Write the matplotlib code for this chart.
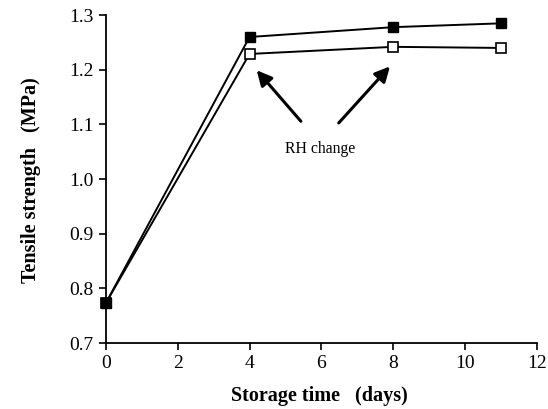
import matplotlib
matplotlib.use('Agg')
import matplotlib.pyplot as plt

# data
days = [0, 4, 8, 11]
filled = [0.773, 1.260, 1.278, 1.285]
open_sq = [0.773, 1.229, 1.242, 1.240]

plt.rcParams['font.family'] = ['Liberation Serif', 'DejaVu Serif']

fig = plt.figure(figsize=(5.48, 4.09), dpi=100)
ax = fig.add_axes([0.193, 0.161, 0.787, 0.802])

ax.plot(days, open_sq, color='black', lw=1.4, marker='s', ms=7.5,
        mfc='white', mec='black', mew=1.2, zorder=3, clip_on=False)
ax.plot(days, filled, color='black', lw=1.4, marker='s', ms=7.5,
        mfc='black', mec='black', zorder=4, clip_on=False)

ax.set_xlim(0, 12)
ax.set_ylim(0.7, 1.3)
ax.set_xticks(range(0, 13, 2))
ax.set_yticks([0.7, 0.8, 0.9, 1.0, 1.1, 1.2, 1.3])
ax.set_yticklabels(['0.7', '0.8', '0.9', '1.0', '1.1', '1.2', '1.3'])

for s in ['top', 'right']:
    ax.spines[s].set_visible(False)
ax.spines['left'].set_linewidth(1.3)
ax.spines['bottom'].set_linewidth(1.3)
ax.tick_params(direction='out', length=5, width=1.2, labelsize=14)

ax.set_xlabel('Storage time   (days)', fontsize=14.5, fontweight='bold')
ax.set_ylabel('Tensile strength   (MPa)', fontsize=14.5, fontweight='bold')
ax.xaxis.set_label_coords(0.495, -0.130)
ax.yaxis.set_label_coords(-0.151, 0.497)

# annotation with two arrows
ax.text(5.96, 1.055, 'RH change', ha='center', va='center', fontsize=11.3)
arrow = dict(arrowstyle='-|>,head_length=0.9,head_width=0.45', color='black', lw=2.2)
ax.annotate('', xy=(4.15, 1.203), xytext=(5.48, 1.102), arrowprops=arrow)
ax.annotate('', xy=(7.96, 1.21), xytext=(6.43, 1.099), arrowprops=arrow)

fig.savefig('out.png', dpi=100)
